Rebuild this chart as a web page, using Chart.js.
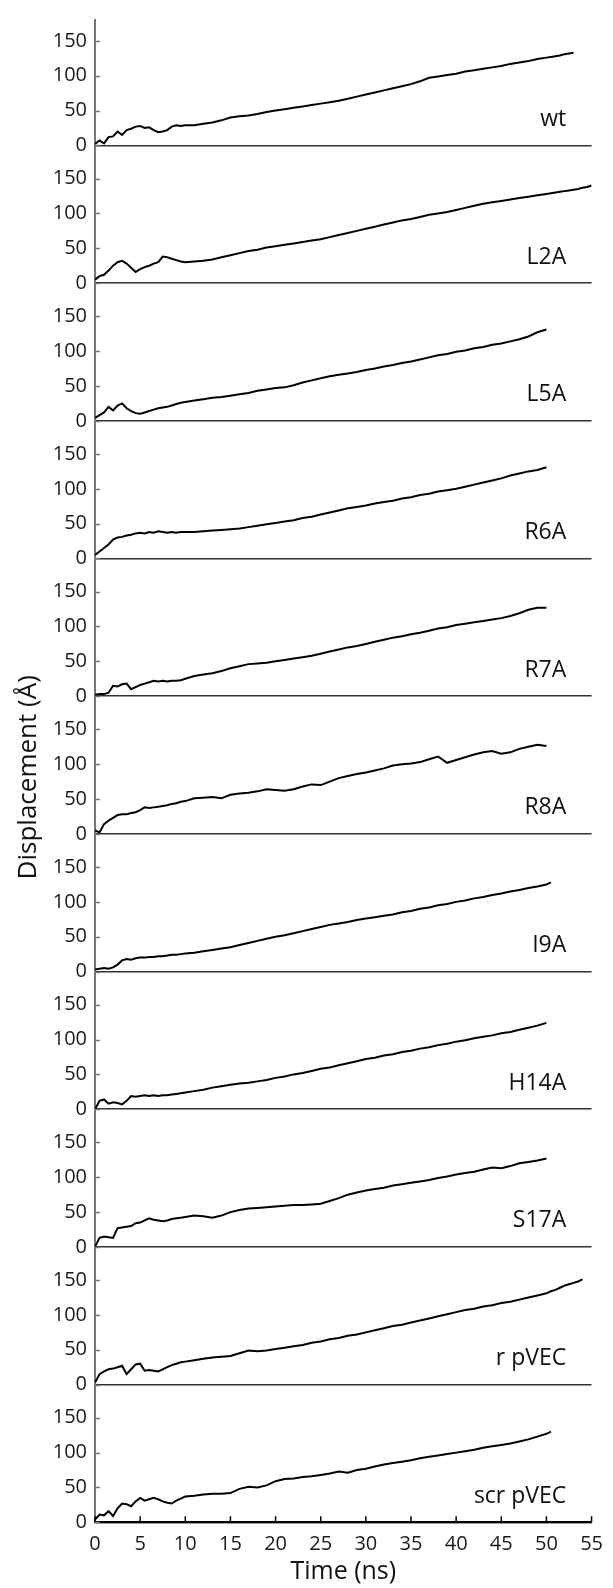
<!DOCTYPE html>
<html><head><meta charset="utf-8">
<script src="https://cdn.jsdelivr.net/npm/chart.js@4"></script>
<style>html,body{margin:0;padding:0;background:#fff}#wrap{position:relative;width:613px;height:1588px}</style>
</head><body><div id="wrap"><canvas id="c"></canvas></div>
<script>
// time axis (ns): 0..10 step 0.5, 11..50 step 1, 50.5..55 step 0.5
const time = [0,0.5,1,1.5,2,2.5,3,3.5,4,4.5,5,5.5,6,6.5,7,7.5,8,8.5,9,9.5,10,
  11,12,13,14,15,16,17,18,19,20,21,22,23,24,25,26,27,28,29,30,
  31,32,33,34,35,36,37,38,39,40,41,42,43,44,45,46,47,48,49,50,
  50.5,51,51.5,52,52.5,53,53.5,54,54.5,55];

const seriesNames = ['wt','L2A','L5A','R6A','R7A','R8A','I9A','H14A','S17A','r pVEC','scr pVEC'];

const wt = [2,7,3,12,13,20,15,22,24,27,28,25,26,22,19,20,22,27,29,28,29,
  29,31,33,36,40,42,43,45,48,50, 52,54,56,58,60,62,64,67,70,73,
  76,79,82,85,88,92,97,99,101,103, 106,108,110,112,114,117,119,121,124,126,
  127,128,129,131,132,133];
const l2a = [5,10,12,18,25,30,32,28,22,16,20,23,25,28,30,38,37,35,33,31,30,
  31,32,34,37,40,43,46,48,51,53, 55,57,59,61,63,66,69,72,75,78,
  81,84,87,90,92,95,98,100,102,105, 108,111,114,116,118,120,122,124,126,128,
  129,130,131,132,133,134,135,137,138,140];
const l5a = [4,8,12,20,15,22,25,18,14,11,10,12,14,16,18,19,20,22,24,26,27,
  29,31,33,34,36,38,40,43,45,47, 48,51,55,58,61,64,66,68,70,73,
  75,78,80,83,85,88,91,94,96,99, 101,104,106,109,111,114,117,121,127,131];
const r6a = [5,10,15,20,27,30,31,33,34,36,37,36,38,37,39,38,37,38,37,38,38,
  38,39,40,41,42,43,45,47,49,51, 53,55,58,60,63,66,69,72,74,76,
  79,81,83,86,88,91,93,96,98,100, 103,106,109,112,115,119,122,125,127,131];
const r7a = [2,3,3,5,15,14,17,18,10,13,16,18,20,22,21,22,21,22,22,23,25,
  29,31,33,36,40,43,46,47,48,50, 52,54,56,58,61,64,67,70,72,75,
  78,81,84,86,89,91,94,97,99,102, 104,106,108,110,112,115,119,124,127,127];
const r8a = [5,2,14,19,23,27,28,28,30,31,34,38,37,38,39,40,41,43,44,46,47,
  51,52,53,51,56,58,59,61,64,63, 62,64,68,71,70,75,80,83,86,88,
  91,94,98,100,101,103,107,111,102,106, 110,114,117,119,115,117,122,125,128,126];
const i9a = [3,4,5,4,6,10,16,18,17,19,20,20,21,21,22,22,23,24,24,25,26,
  27,29,31,33,35,38,41,44,47,50, 52,55,58,61,64,67,69,71,74,76,
  78,80,82,85,87,90,92,95,97,100, 102,105,107,110,112,115,117,120,122,125,
  128];
const h14a = [0,12,14,8,10,9,7,12,19,18,19,20,19,20,19,20,20,21,22,23,24,
  26,28,31,33,35,37,38,40,42,45, 47,50,52,55,58,60,63,66,69,72,
  74,77,79,82,84,87,89,92,94,97, 99,102,104,106,109,111,114,117,120,124];
const s17a = [0,13,15,14,13,27,28,29,30,34,35,38,41,39,38,37,38,40,41,42,43,
  45,44,42,45,50,53,55,56,57,58, 59,60,60,61,62,66,70,75,78,81,
  83,85,88,90,92,94,96,99,101,104, 106,108,111,114,113,116,120,122,124,127];
const rpvec = [3,15,19,22,23,25,27,15,22,29,30,20,21,20,19,22,25,28,30,32,33,
  35,37,39,40,41,45,49,48,49,51, 53,55,57,60,62,65,67,70,72,75,
  78,81,84,86,89,92,95,98,101,104, 107,109,112,114,117,119,122,125,128,131,
  134,136,139,142,144,146,148,151];
const scrpvec = [4,11,10,16,9,20,27,26,23,30,35,31,33,35,33,30,28,27,31,34,37,
  38,40,41,41,42,48,51,50,53,59, 62,63,65,66,68,70,73,71,75,77,
  80,83,85,87,89,92,94,96,98,100, 102,104,107,109,111,113,116,119,123,127,
  130];

const seriesValues = [wt,l2a,l5a,r6a,r7a,r8a,i9a,h14a,s17a,rpvec,scrpvec];
const yTickValues = [0,50,100,150];
const xTickValues = [0,5,10,15,20,25,30,35,40,45,50,55];

const FONT = '"Open Sans", "DejaVu Sans", sans-serif';
const N = seriesNames.length;
const panelMin = -17.6, panelMax = 180;
const labelAt = [52.2, 28];

const datasets = seriesValues.map((vals, i) => ({
  label: seriesNames[i],
  data: vals.map((v, k) => ({x: time[k], y: v})),
  yAxisID: 'y' + i,
  borderColor: '#000',
  borderWidth: 2,
  pointRadius: 0,
  tension: 0,
  fill: false
}));

const scales = {
  x: {
    type: 'linear', position: 'bottom', min: 0, max: 55,
    afterBuildTicks: s => { s.ticks = xTickValues.map(v => ({value: v})); },
    afterFit: s => { s.height = 65.7; },
    grid: {display: false, drawTicks: false},
    border: {display: true, color: '#000', width: 2},
    ticks: {color: '#1a1a1a', font: {family: FONT, size: 20}, padding: 10, maxRotation: 0, autoSkip: false},
    title: {display: true, text: 'Time (ns)', color: '#111', font: {family: FONT, size: 25}, padding: {top: 0, bottom: 1}}
  }
};
for (let i = 0; i < N; i++) {
  const last = i === N - 1;
  scales['y' + i] = {
    type: 'linear', position: 'left', stack: 'panels',
    stackWeight: (last ? 0 : -panelMin) + panelMax,
    weight: N - i,
    min: last ? 0 : panelMin, max: panelMax,
    afterBuildTicks: s => { s.ticks = yTickValues.map(v => ({value: v})); },
    afterFit: s => { s.width = 95; },
    grid: {
      display: true, drawTicks: false, drawOnChartArea: true,
      color: c => (c.tick && c.tick.value === 0) ? '#333' : 'rgba(0,0,0,0)',
      lineWidth: 1.5
    },
    border: {display: true, color: '#777', width: 2},
    ticks: {color: '#1a1a1a', font: {family: FONT, size: 20}, padding: 8, autoSkip: false},
    title: {display: i === 5, text: 'Displacement (Å)', color: '#111', font: {family: FONT, size: 26}, padding: {top: 13, bottom: 0}}
  };
}

const panelLabels = {
  id: 'panelLabels',
  afterDatasetsDraw(chart) {
    const ctx = chart.ctx, xs = chart.scales.x;
    ctx.save();
    ctx.font = '23px ' + FONT;
    ctx.fillStyle = '#111';
    ctx.textAlign = 'right';
    ctx.textBaseline = 'alphabetic';
    seriesNames.forEach((name, i) => {
      const ys = chart.scales['y' + i];
      ctx.fillText(name, xs.getPixelForValue(labelAt[0]), ys.getPixelForValue(labelAt[1]));
    });
    ctx.restore();
  }
};

const inwardTicks = {
  id: 'inwardTicks',
  afterDraw(chart) {
    const ctx = chart.ctx, xs = chart.scales.x;
    ctx.save();
    ctx.lineWidth = 1.5;
    ctx.strokeStyle = '#777';
    ctx.beginPath();
    for (let i = 0; i < N; i++) {
      const ys = chart.scales['y' + i];
      yTickValues.forEach(v => {
        const y = Math.round(ys.getPixelForValue(v)) + 0.5;
        ctx.moveTo(ys.right, y);
        ctx.lineTo(ys.right + 5, y);
      });
    }
    ctx.stroke();
    ctx.strokeStyle = '#000';
    ctx.beginPath();
    xTickValues.forEach(v => {
      const x = xs.getPixelForValue(v);
      ctx.moveTo(x, xs.top);
      ctx.lineTo(x, xs.top - 6);
    });
    ctx.stroke();
    ctx.restore();
  }
};

new Chart(document.getElementById('c'), {
  type: 'line',
  data: {datasets},
  options: {
    responsive: true, maintainAspectRatio: false, animation: false,
    devicePixelRatio: 1, events: [],
    layout: {padding: {top: 13.3, right: 15.7, left: 0, bottom: 0}},
    plugins: {legend: {display: false}, tooltip: {enabled: false}},
    scales
  },
  plugins: [panelLabels, inwardTicks]
});
</script>
</body></html>
